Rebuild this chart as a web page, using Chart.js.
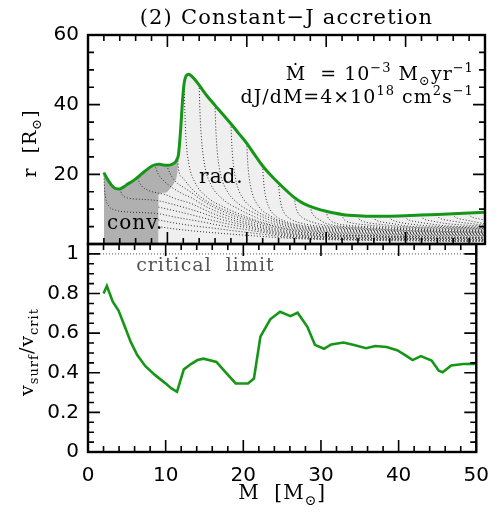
<!doctype html>
<html>
<head>
<meta charset="utf-8">
<title>Constant-J accretion</title>
<script src="https://cdn.jsdelivr.net/npm/chart.js@4.4.1/dist/chart.umd.min.js"></script>
<style>
  body { margin: 0; background: #fff; }
  .holder { position: relative; width: 501px; height: 512px; }
  .holder canvas { position: absolute; left: 0; top: 0; }
</style>
</head>
<body>
<div class="holder">
  <canvas id="radiusChart" width="501" height="512"></canvas>
  <canvas id="rotChart" width="501" height="512"></canvas>
</div>
<script>
// ---- top panel: surface radius r [Rsun] vs stellar mass M [Msun]
var surfM = [2.0, 2.5, 3.0, 3.5, 4.0, 4.5, 5.0, 5.5, 6.0, 6.5, 7.0, 7.5, 8.0, 8.5, 9.0, 9.5, 10.0, 10.5, 11.0, 11.2, 11.37, 11.5, 11.7, 11.9, 12.1, 12.4, 12.7, 13.0, 13.5, 14.0, 15.0, 16.0, 17.0, 18.0, 19.0, 20.0, 21.0, 22.0, 23.0, 24.0, 25.0, 26.0, 27.0, 28.0, 29.0, 30.0, 31.0, 32.0, 34.0, 36.0, 38.0, 40.0, 42.0, 44.0, 46.0, 48.0, 50.0];
var surfR = [20.5, 18.4, 16.8, 15.9, 15.8, 16.4, 17.2, 17.9, 18.7, 19.6, 20.6, 21.5, 22.3, 22.8, 22.9, 22.7, 22.6, 22.8, 23.5, 24.3, 25.3, 28.0, 34.0, 41.0, 46.0, 48.4, 48.7, 48.3, 47.1, 45.6, 42.5, 39.8, 37.2, 34.5, 31.7, 28.9, 25.6, 22.4, 19.8, 17.5, 15.3, 13.3, 11.8, 10.8, 10.0, 9.4, 8.9, 8.5, 8.1, 7.95, 8.0, 8.1, 8.3, 8.5, 8.7, 8.9, 9.1];

// lower / right edge of the convective zone
var convEdgeM = [2.0, 8.86, 8.87, 9.7, 10.54, 11.0, 11.17, 11.3, 11.37];
var convEdgeR = [0, 0, 14.1, 14.7, 16.5, 18.2, 19.3, 21.5, 25.3];

// Lagrangian mass shells [M, r] (dotted lines)
var shellI = [[8.86,5.0],[11,4.3],[13,3.8],[16,3.2],[20,2.5],[25,1.7],[30,1.25],[40,0.9],[50,0.65]];
var shellH = [[8.86,6.9],[11,6.0],[13,5.3],[16,4.5],[18,3.9],[20,3.35],[22,2.8],[25,2.0],[30,1.45],[35,1.25],[40,1.1],[45,0.95],[50,0.85]];
var shellA = [[2.0,20.5],[2.05,17],[2.2,13.5],[2.6,11],[3.5,9.7],[5,9.2],[7,9.0],[8.86,8.7],[11,7.7],[13,6.9],[14.5,6.3],[16,5.6],[18,4.8],[20,4.1],[22,3.35],[25,2.3],[30,1.65],[35,1.45],[40,1.3],[45,1.15],[50,1.05]];
var shellG = [[8.86,10.6],[11,9.5],[13,8.4],[14.5,7.5],[16,6.6],[18,5.6],[20,4.7],[22,3.75],[25,2.6],[30,1.85],[35,1.6],[40,1.45],[45,1.3],[50,1.2]];
var shellB = [[4.0,15.8],[4.3,14.2],[5,13.2],[7,12.8],[8.86,12.4],[11,11.2],[13,9.9],[14.5,8.8],[16,7.6],[18,6.3],[20,5.2],[22,4.15],[25,2.9],[30,2.05],[35,1.8],[40,1.6],[45,1.45],[50,1.35]];
var shellC = [[6.2,18.9],[6.7,16.8],[7.6,15.4],[8.86,14.6],[9.7,14.2],[11,13.0],[13,11.6],[14.5,10.0],[16,8.5],[18,7.0],[20,5.7],[22,4.55],[25,3.2],[30,2.25],[35,2.0],[40,1.75],[45,1.6],[50,1.5]];
var shellD = [[8.4,22.8],[8.8,20.3],[9.6,18.0],[10.54,16.3],[12,14.3],[13,13.3],[14.5,11.2],[16,9.5],[18,7.7],[20,6.2],[22,4.95],[25,3.5],[30,2.45],[35,2.2],[40,1.9],[45,1.75],[50,1.65]];
var shellE = [[9.9,22.6],[10.3,20.4],[11.0,18.0],[12,16.3],[13,14.8],[14.5,12.3],[16,10.4],[18,8.4],[20,6.8],[22,5.4],[25,3.85],[30,2.65],[35,2.35],[40,2.05],[45,1.9],[50,1.8]];
var shellF = [[11.3,24.8],[11.4,21.5],[12,18.8],[13,16.0],[14.5,13.0],[16,11.0],[18,9.0],[20,7.3],[22,5.9],[25,4.2],[30,2.85],[35,2.5],[40,2.2],[45,2.05],[50,1.95]];
var shell12 = [[12.1,46.5],[12.2,38],[12.35,30],[12.7,23],[13.4,18],[14.8,13.8],[17,10.7],[19,8.7],[21,6.9],[23,5.5],[25,4.4],[27,3.8],[30,3.15],[35,2.8],[40,2.5],[45,2.35],[50,2.25]];
var shell14 = [[14,45.6],[14.1,38],[14.3,30],[14.7,22.5],[15.5,17],[17,12.8],[19,10.0],[21,7.8],[23,6.1],[25,4.8],[27,4.1],[30,3.4],[35,3.05],[40,2.7],[45,2.55],[50,2.45]];
var shell16 = [[16,39.8],[16.1,33],[16.3,26],[16.7,20],[17.5,15.3],[19,11.5],[21,8.8],[23,6.8],[25,5.2],[27,4.4],[30,3.7],[35,3.3],[40,2.9],[45,2.75],[50,2.65]];
var shell18 = [[18,34.5],[18.1,29],[18.3,23],[18.7,17.5],[19.5,13.2],[21,9.8],[23,7.4],[25,5.6],[27,4.7],[30,4.0],[35,3.55],[40,3.1],[45,2.95],[50,2.85]];
var shell20 = [[20,28.9],[20.1,24],[20.3,19],[20.7,14.5],[21.5,10.8],[23,8.0],[25,6.0],[27,5.0],[30,4.3],[35,3.8],[40,3.3],[45,3.1],[50,3.0]];
var shell22 = [[22,22.4],[22.1,18.5],[22.3,14.5],[22.7,11.0],[23.5,8.3],[25,6.4],[27,5.3],[30,4.6],[35,4.0],[40,3.5],[45,3.3],[50,3.15]];
var shell24 = [[24,17.5],[24.1,14.5],[24.3,11.5],[24.7,9.0],[25.5,7.2],[27,5.9],[30,4.9],[35,4.2],[40,3.7],[45,3.45],[50,3.3]];
var shell26 = [[26,13.3],[26.12,11.2],[26.4,9.2],[27,7.6],[28,6.5],[30,5.3],[35,4.45],[40,3.9],[45,3.6],[50,3.45]];
var shell28 = [[28,10.8],[28.15,9.3],[28.5,8.0],[29.2,6.9],[30,5.9],[35,4.7],[40,4.1],[45,3.8],[50,3.6]];
var shell30 = [[30,9.4],[30.15,8.0],[30.5,6.8],[31.3,5.9],[33,5.3],[35,5.0],[40,4.35],[45,4.0],[50,3.8]];
var shell32 = [[32,8.5],[32.15,7.4],[32.5,6.6],[33.3,6.0],[35,5.5],[40,4.6],[45,4.2],[50,4.0]];
var shell34 = [[34,8.1],[34.15,7.2],[34.5,6.6],[35.3,6.1],[37,5.6],[40,4.9],[45,4.45],[50,4.2]];
var shell36 = [[36,7.95],[36.15,7.1],[36.5,6.6],[37.3,6.2],[38.5,5.8],[40,5.2],[45,4.7],[50,4.4]];
var shell38 = [[38,8.0],[38.15,7.2],[38.5,6.7],[39.3,6.2],[41,5.6],[45,4.95],[50,4.6]];
var shell40 = [[40,8.1],[40.15,7.3],[40.5,6.8],[41.3,6.4],[43,5.8],[45,5.25],[50,4.85]];
var shell42 = [[42,8.3],[42.15,7.5],[42.5,7.0],[43.3,6.6],[45,5.9],[50,5.1]];
var shell44 = [[44,8.5],[44.15,7.7],[44.5,7.2],[45.3,6.8],[47,6.2],[50,5.4]];
var shell46 = [[46,8.7],[46.15,7.9],[46.5,7.4],[47.3,7.0],[50,5.8]];
var shell48 = [[48,8.9],[48.15,8.1],[48.5,7.6],[49.3,7.2],[50,6.9]];

// ---- bottom panel: v_surf / v_crit vs M
var vM = [2.0, 2.43, 3.19, 3.95, 4.66, 5.5, 6.34, 7.39, 8.65, 9.9, 10.75, 11.46, 12.34, 13.26, 14.1, 14.86, 16.54, 17.67, 19.02, 20.6, 21.37, 22.2, 23.47, 24.73, 26.07, 26.99, 28.25, 29.22, 30.39, 31.32, 32.9, 34.26, 35.81, 36.99, 38.46, 39.8, 40.9, 41.8, 42.86, 44.25, 45.17, 45.67, 46.77, 48.33, 49.8, 50.0];
var vRatio = [0.80, 0.838, 0.759, 0.713, 0.641, 0.556, 0.489, 0.433, 0.388, 0.349, 0.321, 0.304, 0.417, 0.444, 0.464, 0.471, 0.455, 0.405, 0.346, 0.346, 0.371, 0.582, 0.670, 0.708, 0.686, 0.703, 0.632, 0.541, 0.521, 0.543, 0.553, 0.540, 0.524, 0.535, 0.530, 0.514, 0.488, 0.464, 0.484, 0.462, 0.410, 0.403, 0.437, 0.444, 0.445, 0.445];
var critM = [0, 50];
var critV = [1, 1];

var GREEN = 'rgb(22,150,22)';
var DOTS = 'rgb(45,45,45)';
var SERIF = "'DejaVu Serif', serif";

function pts(xs, ys) {
    return xs.map(function (x, i) { return { x: x, y: ys[i] }; });
}
function pairs(list) {
    return list.map(function (p) { return { x: p[0], y: p[1] }; });
}

// text with superscripts / subscripts
function drawRich(ctx, parts, x, y, align, size) {
    var widths = [], total = 0;
    parts.forEach(function (p) {
        ctx.font = (p[1] ? Math.round(size * 0.68) : size) + 'px ' + SERIF;
        var w = ctx.measureText(p[0]).width;
        widths.push(w);
        total += w;
    });
    var cx = align === 'right' ? x - total : (align === 'center' ? x - total / 2 : x);
    ctx.textAlign = 'left';
    ctx.textBaseline = 'alphabetic';
    parts.forEach(function (p, i) {
        ctx.font = (p[1] ? Math.round(size * 0.68) : size) + 'px ' + SERIF;
        var dy = p[1] === 'sup' ? -size * 0.42 : (p[1] === 'sub' ? size * 0.28 : 0);
        ctx.fillText(p[0], cx, y + dy);
        cx += widths[i];
    });
}

// black box with inward ticks on all four sides
function framePlugin(yMinor, yMajor, yMax) {
    return {
        id: 'frame',
        afterDraw: function (chart) {
            var ctx = chart.ctx, a = chart.chartArea;
            var xs = chart.scales.x, ys = chart.scales.y;
            ctx.save();
            ctx.strokeStyle = '#000';
            ctx.lineWidth = 1.6;
            ctx.beginPath();
            for (var i = 0; i <= 25; i++) {
                var px = xs.getPixelForValue(i * 2);
                var len = (i % 5 === 0) ? 12 : 6;
                ctx.moveTo(px, a.bottom); ctx.lineTo(px, a.bottom - len);
                ctx.moveTo(px, a.top); ctx.lineTo(px, a.top + len);
            }
            var n = Math.floor(yMax / yMinor + 1e-6);
            var every = Math.round(yMajor / yMinor);
            for (var k = 1; k <= n; k++) {
                var py = ys.getPixelForValue(k * yMinor);
                var l2 = (k % every === 0) ? 12 : 6;
                ctx.moveTo(a.left, py); ctx.lineTo(a.left + l2, py);
                ctx.moveTo(a.right, py); ctx.lineTo(a.right - l2, py);
            }
            ctx.stroke();
            ctx.lineWidth = 2.4;
            ctx.strokeRect(a.left, a.top, a.right - a.left, a.bottom - a.top);
            ctx.restore();
        }
    };
}

var topNotes = {
    id: 'topNotes',
    afterDraw: function (chart) {
        var ctx = chart.ctx, a = chart.chartArea;
        var xs = chart.scales.x, ys = chart.scales.y;
        ctx.save();
        ctx.fillStyle = '#000';
        ctx.letterSpacing = '1.2px';
        drawRich(ctx, [['(2) Constant\u2212J accretion', '']], (a.left + a.right) / 2, 24, 'center', 21);
        ctx.letterSpacing = '1px';
        drawRich(ctx, [['\u1E40', ''], ['  = 10', ''], ['\u22123', 'sup'], [' M', ''], ['\u2299', 'sub'], ['yr', ''], ['\u22121', 'sup']],
            xs.getPixelForValue(48.6), ys.getPixelForValue(47.1), 'right', 19);
        drawRich(ctx, [['dJ/dM=4\u00D710', ''], ['18', 'sup'], [' cm', ''], ['2', 'sup'], ['s', ''], ['\u22121', 'sup']],
            xs.getPixelForValue(48.6), ys.getPixelForValue(40.5), 'right', 19);
        drawRich(ctx, [['rad.', '']], xs.getPixelForValue(16.8), ys.getPixelForValue(17.6), 'center', 20);
        drawRich(ctx, [['conv.', '']], xs.getPixelForValue(2.4), ys.getPixelForValue(4.2), 'left', 20);
        // y title
        ctx.translate(36, (a.top + a.bottom) / 2 + 4);
        ctx.rotate(-Math.PI / 2);
        drawRich(ctx, [['r  [R', ''], ['\u2299', 'sub'], [']', '']], 0, 0, 'center', 19);
        ctx.restore();
    }
};

var bottomNotes = {
    id: 'bottomNotes',
    afterDraw: function (chart) {
        var ctx = chart.ctx, a = chart.chartArea;
        var xs = chart.scales.x, ys = chart.scales.y;
        ctx.save();
        ctx.letterSpacing = '1px';
        ctx.fillStyle = '#555';
        drawRich(ctx, [['critical  limit', '']], xs.getPixelForValue(6.2), ys.getPixelForValue(0.915), 'left', 19);
        ctx.fillStyle = '#000';
        drawRich(ctx, [['M  [M', ''], ['\u2299', 'sub'], [']', '']], (a.left + a.right) / 2, 499, 'center', 20);
        ctx.translate(33, (a.top + a.bottom) / 2 + 4);
        ctx.rotate(-Math.PI / 2);
        drawRich(ctx, [['v', ''], ['surf', 'sub'], ['/v', ''], ['crit', 'sub']], 0, 0, 'center', 19);
        ctx.restore();
    }
};

Chart.defaults.font.family = "'DejaVu Sans', sans-serif";
Chart.defaults.font.size = 20;
Chart.defaults.color = '#000';

function shellSet(list) {
    return {
        data: pairs(list),
        borderColor: DOTS,
        borderWidth: 1,
        borderDash: [1, 2],
        pointRadius: 0,
        fill: false,
        cubicInterpolationMode: 'monotone',
        order: 1
    };
}

var shells = [shellI, shellH, shellA, shellG, shellB, shellC, shellD, shellE, shellF,
    shell12, shell14, shell16, shell18, shell20, shell22, shell24, shell26, shell28,
    shell30, shell32, shell34, shell36, shell38, shell40, shell42, shell44, shell46, shell48];

var convTopM = [], convTopR = [];
surfM.forEach(function (m, i) {
    if (m <= 11.37) { convTopM.push(m); convTopR.push(surfR[i]); }
});

var topSets = [
    {
        data: pts(surfM, surfR), borderColor: GREEN, borderWidth: 3, pointRadius: 0,
        fill: false, cubicInterpolationMode: 'monotone', order: 0
    },
    {
        data: pts(convTopM, convTopR), borderWidth: 0, borderColor: 'rgba(0,0,0,0)', pointRadius: 0,
        backgroundColor: 'rgb(176,176,176)', fill: '+1', cubicInterpolationMode: 'monotone', order: 2
    },
    {
        data: pts(convEdgeM, convEdgeR), borderWidth: 0, borderColor: 'rgba(0,0,0,0)', pointRadius: 0,
        fill: false, cubicInterpolationMode: 'monotone', order: 2
    },
    {
        data: pts(surfM, surfR), borderWidth: 0, borderColor: 'rgba(0,0,0,0)', pointRadius: 0,
        backgroundColor: 'rgb(239,239,239)', fill: 'origin', cubicInterpolationMode: 'monotone', order: 3
    }
].concat(shells.map(shellSet));

var radiusChart = new Chart(document.getElementById('radiusChart').getContext('2d'), {
    type: 'line',
    data: { datasets: topSets },
    options: {
        responsive: false,
        animation: false,
        events: [],
        layout: { padding: { left: 0, right: 16, top: 35, bottom: 268 } },
        plugins: { legend: { display: false }, tooltip: { enabled: false } },
        scales: {
            x: { type: 'linear', min: 0, max: 50, display: false },
            y: {
                type: 'linear', min: 0, max: 60,
                grid: { display: false, drawTicks: false },
                border: { display: false },
                ticks: {
                    stepSize: 20, padding: 9, autoSkip: false,
                    callback: function (v) { return v === 0 ? '' : v; }
                },
                afterFit: function (s) { s.width = 88; }
            }
        }
    },
    plugins: [framePlugin(5, 20, 60), topNotes]
});

var rotChart = new Chart(document.getElementById('rotChart').getContext('2d'), {
    type: 'line',
    data: {
        datasets: [
            {
                data: pts(vM, vRatio), borderColor: GREEN, borderWidth: 2.6, pointRadius: 0,
                fill: false, tension: 0, order: 0
            },
            {
                data: pts(critM, critV), borderColor: 'rgb(120,120,120)', borderWidth: 1.2,
                borderDash: [1, 2], pointRadius: 0, fill: false, order: 1
            }
        ]
    },
    options: {
        responsive: false,
        animation: false,
        events: [],
        layout: { padding: { left: 0, right: 16, top: 244, bottom: 30 } },
        plugins: { legend: { display: false }, tooltip: { enabled: false } },
        scales: {
            x: {
                type: 'linear', min: 0, max: 50,
                grid: { display: false, drawTicks: false },
                border: { display: false },
                ticks: { stepSize: 10, padding: 12, autoSkip: false, maxRotation: 0 },
                afterFit: function (s) { s.height = 30; }
            },
            y: {
                type: 'linear', min: 0, max: 1.05,
                grid: { display: false, drawTicks: false },
                border: { display: false },
                ticks: {
                    stepSize: 0.2, padding: 9, autoSkip: false, includeBounds: false,
                    callback: function (v) {
                        var r = Math.round(v * 10) / 10;
                        return r === 0 ? '0' : (r === 1 ? '1' : r.toFixed(1));
                    }
                },
                afterFit: function (s) { s.width = 88; }
            }
        }
    },
    plugins: [framePlugin(0.05, 0.2, 1.05), bottomNotes]
});
</script>
</body>
</html>
